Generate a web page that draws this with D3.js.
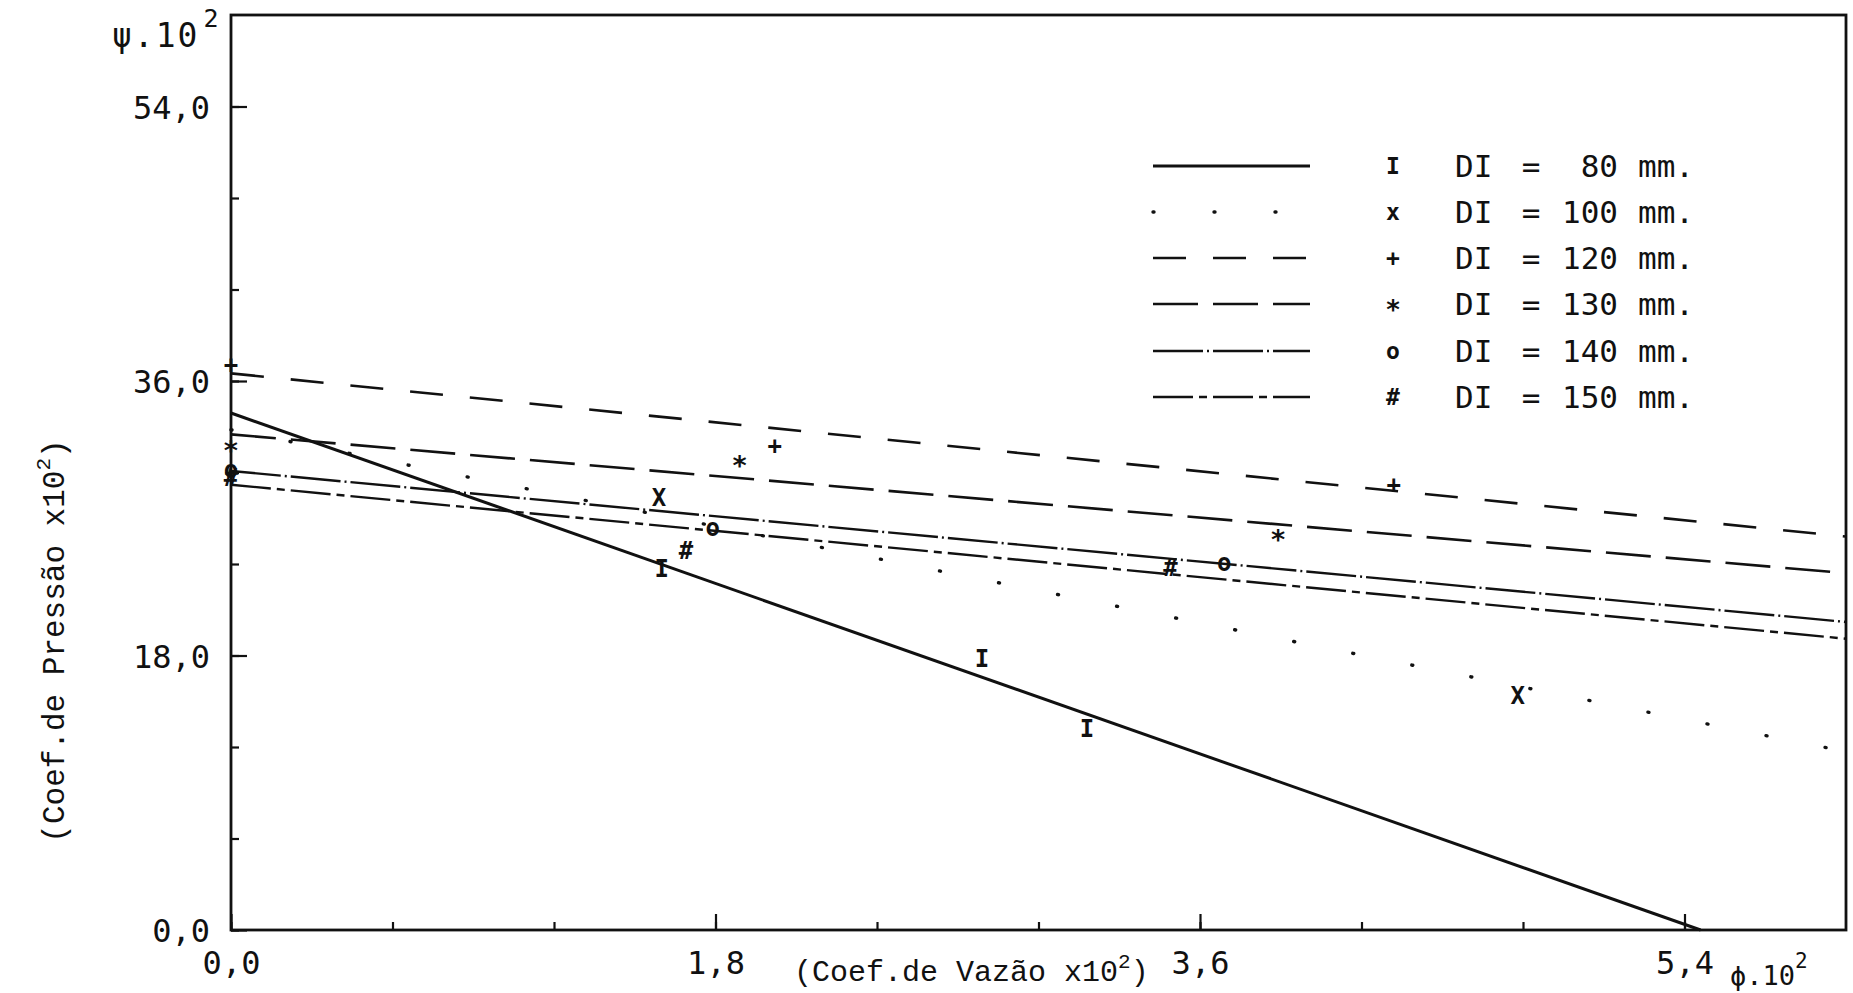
<!DOCTYPE html>
<html>
<head>
<meta charset="utf-8">
<script src="https://cdn.jsdelivr.net/npm/d3@7"></script>
<style>
  body { margin: 0; background: #fff; }
  svg { display: block; }
  .mono { font-family: "DejaVu Sans Mono", monospace; fill: #111; }
  .cour { font-family: "Courier New", "Liberation Mono", monospace; fill: #111; }
</style>
</head>
<body>
<svg id="chart" width="1853" height="993"></svg>
<script>
// series (DI in mm) and the fitted lines
var diameters = [80, 100, 120, 130, 140, 150];
var symbols   = ["I", "x", "+", "*", "o", "#"];

// line end points: [phi0, psi0, phi1, psi1]
var lineEnds = [
  [0, 33.9, 5.46, 0],
  [0, 32.8, 6.0, 11.7],
  [0, 36.5, 6.0, 25.8],
  [0, 32.5, 6.0, 23.4],
  [0, 30.1, 6.0, 20.2],
  [0, 29.2, 6.0, 19.1]
];

// measured points
var phi80  = [1.60, 2.79, 3.18], psi80  = [23.7, 17.8, 13.2];
var phi100 = [1.59, 4.78],       psi100 = [28.4, 15.4];
var phi120 = [0, 2.02, 4.32],    psi120 = [37.1, 31.8, 29.2];
var phi130 = [0, 1.89, 3.89],    psi130 = [31.8, 30.8, 26.0];
var phi140 = [0, 1.79, 3.69],    psi140 = [30.2, 26.4, 24.1];
var phi150 = [0, 1.69, 3.49],    psi150 = [29.7, 24.9, 23.8];

var xMajor = [0, 1.8, 3.6, 5.4];
var yMajor = [0, 18, 36, 54];

var phiPts = [phi80, phi100, phi120, phi130, phi140, phi150];
var psiPts = [psi80, psi100, psi120, psi130, psi140, psi150];

// line styles per series
var dashes = ["none", "1,59.2", "33,27", "45,15", "50,4,2,4", "40,6,8,6"];
var widths = [3, 3.4, 2.6, 2.6, 2.4, 2.4];

var svg = d3.select("#chart");
var x = d3.scaleLinear().domain([0, 6]).range([231, 1846]);
var y = d3.scaleLinear().domain([0, 60]).range([930, 15]);
var fmt = function(d) { return d3.format(".1f")(d).replace(".", ","); };

// minor ticks
svg.append("g").attr("transform", "translate(231,0)")
  .call(d3.axisLeft(y).tickValues(d3.range(0, 60, 6)).tickSizeInner(-8).tickSizeOuter(0).tickFormat(""));
svg.append("g").attr("transform", "translate(0,930)")
  .call(d3.axisBottom(x).tickValues(d3.range(0, 6, 0.6)).tickSizeInner(-8).tickSizeOuter(0).tickFormat(""));

// major ticks with labels
var ya = svg.append("g").attr("transform", "translate(231,0)")
  .call(d3.axisLeft(y).tickValues(yMajor).tickSizeInner(-16).tickSizeOuter(0).tickPadding(21).tickFormat(fmt));
var xa = svg.append("g").attr("transform", "translate(0,930)")
  .call(d3.axisBottom(x).tickValues(xMajor).tickSizeInner(-16).tickSizeOuter(0).tickPadding(21).tickFormat(fmt));

svg.selectAll(".domain").remove();
svg.selectAll(".tick line").attr("stroke", "#111").attr("stroke-width", 2.2);
svg.selectAll(".tick text").attr("class", "mono").style("font-size", "32px").attr("fill", "#111");
ya.selectAll(".tick text").attr("dy", "0.36em");
xa.selectAll(".tick text").attr("dy", "0.71em");

// frame
svg.append("rect")
  .attr("x", x(0)).attr("y", y(60))
  .attr("width", x(6) - x(0)).attr("height", y(0) - y(60))
  .attr("fill", "none").attr("stroke", "#111").attr("stroke-width", 2.8);

// fitted lines
var lines = svg.append("g");
lineEnds.forEach(function(e, i) {
  lines.append("line")
    .attr("x1", x(e[0])).attr("y1", y(e[1]))
    .attr("x2", x(e[2])).attr("y2", y(e[3]))
    .attr("stroke", "#111")
    .attr("stroke-width", widths[i])
    .attr("stroke-linecap", i == 1 ? "round" : "butt")
    .attr("stroke-dasharray", dashes[i]);
});

// markers (the asterisk glyph sits high, so push it down)
var marks = svg.append("g");
phiPts.forEach(function(arr, i) {
  arr.forEach(function(p, j) {
    marks.append("text").attr("class", "mono")
      .attr("x", x(p)).attr("y", y(psiPts[i][j]))
      .attr("text-anchor", "middle").attr("dy", i == 3 ? "0.56em" : "0.36em")
      .style("font-size", i == 3 ? "27px" : "24px").style("font-weight", "bold")
      .text(i == 1 ? "X" : symbols[i]);
  });
});

// legend
var legY = [166, 212, 258, 304, 351, 397];
var leg = svg.append("g");
diameters.forEach(function(d, i) {
  leg.append("line")
    .attr("x1", 1153).attr("x2", 1310)
    .attr("y1", legY[i]).attr("y2", legY[i])
    .attr("stroke", "#111")
    .attr("stroke-width", widths[i])
    .attr("stroke-linecap", i == 1 ? "round" : "butt")
    .attr("stroke-dasharray", i == 1 ? "1,60" : dashes[i]);
  leg.append("text").attr("class", "mono")
    .attr("x", 1393).attr("y", legY[i]).attr("dy", i == 3 ? "0.56em" : "0.36em")
    .attr("text-anchor", "middle").style("font-size", i == 3 ? "26px" : "23px").style("font-weight", "bold")
    .text(symbols[i]);
  leg.append("text").attr("class", "mono")
    .attr("x", 1455).attr("y", legY[i]).attr("dy", "0.36em")
    .style("font-size", "31px").text("DI");
  leg.append("text").attr("class", "mono")
    .attr("x", 1531).attr("y", legY[i]).attr("dy", "0.36em")
    .attr("text-anchor", "middle").style("font-size", "31px").text("=");
  leg.append("text").attr("class", "mono")
    .attr("x", 1618).attr("y", legY[i]).attr("dy", "0.36em")
    .attr("text-anchor", "end").style("font-size", "31px").text(d);
  leg.append("text").attr("class", "mono")
    .attr("x", 1638).attr("y", legY[i]).attr("dy", "0.36em")
    .style("font-size", "31px").text("mm.");
});

// axis titles
var psiT = svg.append("text").attr("class", "mono")
  .attr("x", 112).attr("y", 47).style("font-size", "33px").style("letter-spacing", "2px");
psiT.append("tspan").text("ψ.10");
psiT.append("tspan").attr("dx", 4).attr("dy", -20).style("font-size", "25px").text("2");

var phiT = svg.append("text").attr("class", "mono")
  .attr("x", 1730).attr("y", 985).style("font-size", "27px");
phiT.append("tspan").text("ϕ.10");
phiT.append("tspan").attr("dy", -17).style("font-size", "21px").text("2");

var xT = svg.append("text").attr("class", "cour")
  .attr("x", 794).attr("y", 981).style("font-size", "30px");
xT.append("tspan").text("(Coef.de Vazão x10");
xT.append("tspan").attr("dy", -13).style("font-size", "21px").text("2");
xT.append("tspan").attr("dy", 13).text(")");

var yT = svg.append("text").attr("class", "cour")
  .attr("transform", "translate(64,641) rotate(-90)")
  .attr("text-anchor", "middle").style("font-size", "31px");
yT.append("tspan").text("(Coef.de Pressão x10");
yT.append("tspan").attr("dy", -14).style("font-size", "21px").text("2");
yT.append("tspan").attr("dy", 14).text(")");
</script>
</body>
</html>
